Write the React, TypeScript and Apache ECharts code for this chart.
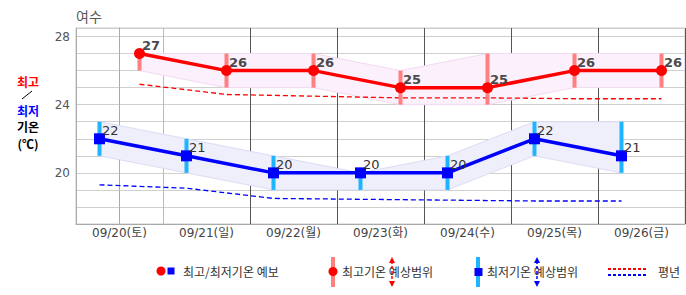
import React, { useEffect, useRef } from 'react';
import * as echarts from 'echarts';

const categories = ['09/20(토)', '09/21(일)', '09/22(월)', '09/23(화)', '09/24(수)', '09/25(목)', '09/26(금)'];
const maxTemp = [27, 26, 26, 25, 25, 26, 26];
const maxRangeLow = [26, 25, 25, 24, 24, 25, 25];
const maxRangeHigh = [27, 27, 27, 26, 27, 27, 27];
const minTemp = [22, 21, 20, 20, 20, 22, 21];
const minRangeLow = [21, 20, 19, 19, 19, 21, 20];
const minRangeHigh = [23, 22, 21, 20, 21, 23, 23];
const maxNormal = [25.2, 24.6, 24.5, 24.4, 24.4, 24.35, 24.35];
const minNormal = [19.3, 19.1, 18.5, 18.45, 18.4, 18.35, 18.35];
const yTickLabels = [20, 24, 28];

const STATION = '여수';
const RED_SHIFT = 0.23;
const BLUE_SHIFT = -0.23;
const NUM_FONT = '"DejaVu Sans", "Noto Sans CJK KR", sans-serif';
const KR_FONT = '"Noto Sans CJK KR", sans-serif';

function bandSeries(low: number[], high: number[], shift: number, fill: string, stroke: string) {
  return {
    type: 'custom',
    xAxisIndex: 1,
    yAxisIndex: 0,
    z: 1,
    silent: true,
    data: [[shift, high[0]]],
    encode: { x: 0, y: 1 },
    renderItem: (_params: any, api: any) => {
      const pts: number[][] = [];
      for (let i = 0; i < high.length; i++) pts.push(api.coord([i + shift, high[i]]));
      for (let i = low.length - 1; i >= 0; i--) pts.push(api.coord([i + shift, low[i]]));
      return {
        type: 'polygon',
        shape: { points: pts },
        style: { fill, stroke, lineWidth: 1 },
      };
    },
  };
}

function rangeBars(low: number[], high: number[], shift: number, color: string) {
  return {
    type: 'custom',
    xAxisIndex: 1,
    yAxisIndex: 0,
    z: 3,
    silent: true,
    data: low.map((l, i) => [i + shift, l, high[i]]),
    encode: { x: 0, y: [1, 2] },
    renderItem: (_params: any, api: any) => {
      const a = api.coord([api.value(0), api.value(1)]);
      const b = api.coord([api.value(0), api.value(2)]);
      return {
        type: 'line',
        shape: { x1: a[0], y1: a[1], x2: b[0], y2: b[1] },
        style: { stroke: color, lineWidth: 4 },
      };
    },
  };
}

function normalLine(vals: number[], shift: number, color: string) {
  return {
    type: 'line',
    xAxisIndex: 1,
    yAxisIndex: 0,
    z: 2,
    symbol: 'none',
    silent: true,
    data: vals.map((v, i) => [i + shift, v]),
    lineStyle: { color, width: 1.3, type: [5, 3] },
  };
}

function mainLine(vals: number[], shift: number, color: string, symbol: string, bold: boolean) {
  return {
    type: 'line',
    xAxisIndex: 1,
    yAxisIndex: 0,
    z: 4,
    symbol,
    symbolSize: 11,
    data: vals.map((v, i) => [i + shift, v]),
    lineStyle: { color, width: 3.5 },
    itemStyle: { color },
    label: {
      show: true,
      position: 'right',
      distance: 0,
      offset: [-3, -8],
      formatter: (p: any) => String(p.value[1]),
      color: bold ? '#4a4a4a' : '#333',
      fontSize: 13,
      fontWeight: bold ? 'bold' : 'normal',
      fontFamily: NUM_FONT,
    },
  };
}

function arrow(x: number, color: string) {
  return [
    { type: 'line', shape: { x1: x, y1: 261, x2: x, y2: 283 }, style: { stroke: color, lineWidth: 1.5, lineDash: [3, 2] } },
    { type: 'polygon', shape: { points: [[x - 3, 263], [x + 3, 263], [x, 257]] }, style: { fill: color } },
    { type: 'polygon', shape: { points: [[x - 3, 281], [x + 3, 281], [x, 287]] }, style: { fill: color } },
  ];
}

export default function App() {
  const ref = useRef<HTMLDivElement>(null);
  useEffect(() => {
    document.body.style.margin = '0';
    const chart = echarts.init(ref.current!, undefined, { renderer: 'svg' });
    const legendText = { fontSize: 12, fontFamily: KR_FONT, fill: '#333', verticalAlign: 'middle' };
    const sideText = { fontSize: 12, lineHeight: 13, fontFamily: KR_FONT, fontWeight: 'bold', align: 'center', verticalAlign: 'middle' };
    chart.setOption({
      animation: false,
      grid: { left: 76, right: 1, top: 28, bottom: 71, show: true, borderColor: '#c8c8c8', borderWidth: 1 },
      xAxis: [
        {
          type: 'category',
          data: categories,
          boundaryGap: true,
          axisLine: { lineStyle: { color: '#aaa' } },
          axisTick: { show: false },
          axisLabel: { color: '#444', fontSize: 12, fontFamily: NUM_FONT, margin: 3 },
          splitLine: { show: true, lineStyle: { color: ['#aaa', '#bbb', '#555', '#555', '#555', '#555', '#555', '#555'] } },
        },
        { type: 'value', min: -0.5, max: 6.5, show: false },
      ],
      yAxis: {
        type: 'value',
        min: 17,
        max: 28.5,
        interval: 1,
        axisLine: { show: true, lineStyle: { color: '#aaa' } },
        axisTick: { show: false },
        axisLabel: {
          color: '#555',
          fontSize: 12,
          fontFamily: NUM_FONT,
          margin: 6,
          formatter: (v: number) => (yTickLabels.includes(v) ? String(v) : ''),
        },
        splitLine: { lineStyle: { color: '#cfcfcf' } },
      },
      series: [
        bandSeries(maxRangeLow, maxRangeHigh, RED_SHIFT, '#fcf0fc', '#f3daf3'),
        bandSeries(minRangeLow, minRangeHigh, BLUE_SHIFT, '#efeffc', '#dcdcf4'),
        normalLine(maxNormal, RED_SHIFT, '#ff0000'),
        normalLine(minNormal, BLUE_SHIFT, '#0000ff'),
        rangeBars(maxRangeLow, maxRangeHigh, RED_SHIFT, '#ff8080'),
        rangeBars(minRangeLow, minRangeHigh, BLUE_SHIFT, '#1eb4ff'),
        mainLine(maxTemp, RED_SHIFT, '#ff0000', 'circle', true),
        mainLine(minTemp, BLUE_SHIFT, '#0000ff', 'rect', false),
      ],
      graphic: [
        { type: 'text', x: 76, y: 16, style: { text: STATION, fontSize: 14, fontFamily: KR_FONT, fill: '#555', verticalAlign: 'middle' } },
        { type: 'text', x: 28, y: 81, style: { ...sideText, text: '최고', fill: '#ff0000' } },
        { type: 'line', shape: { x1: 22, y1: 99, x2: 32, y2: 91 }, style: { stroke: '#000', lineWidth: 1 } },
        { type: 'text', x: 28, y: 110, style: { ...sideText, text: '최저', fill: '#0000ff' } },
        { type: 'text', x: 28, y: 126, style: { ...sideText, text: '기온', fill: '#000' } },
        { type: 'text', x: 28, y: 143, style: { ...sideText, text: '(℃)', fill: '#000' } },

        { type: 'circle', shape: { cx: 161, cy: 271, r: 4.5 }, style: { fill: '#ff0000' } },
        { type: 'rect', shape: { x: 167.5, y: 267.5, width: 7, height: 7 }, style: { fill: '#0000ff' } },
        { type: 'text', x: 183, y: 271, style: { ...legendText, text: '최고/최저기온 예보' } },

        { type: 'rect', shape: { x: 331, y: 257, width: 4, height: 30 }, style: { fill: '#ff8080' } },
        { type: 'circle', shape: { cx: 333, cy: 271.5, r: 4.5 }, style: { fill: '#ff0000' } },
        { type: 'text', x: 342, y: 271, style: { ...legendText, text: '최고기온 예상범위' } },
        ...arrow(392, '#ff0000'),

        { type: 'rect', shape: { x: 476, y: 257, width: 4, height: 30 }, style: { fill: '#1eb4ff' } },
        { type: 'rect', shape: { x: 474.5, y: 268, width: 8, height: 8 }, style: { fill: '#0000ff' } },
        { type: 'text', x: 487, y: 271, style: { ...legendText, text: '최저기온 예상범위' } },
        ...arrow(537, '#0000ff'),

        { type: 'line', shape: { x1: 608, y1: 269, x2: 648, y2: 269 }, style: { stroke: '#ff0000', lineWidth: 2, lineDash: [3, 2] } },
        { type: 'line', shape: { x1: 608, y1: 275, x2: 648, y2: 275 }, style: { stroke: '#0000ff', lineWidth: 2, lineDash: [3, 2] } },
        { type: 'text', x: 658, y: 271, style: { ...legendText, text: '평년' } },
      ],
    });
    return () => chart.dispose();
  }, []);
  return <div ref={ref} style={{ width: 686, height: 295 }} />;
}
